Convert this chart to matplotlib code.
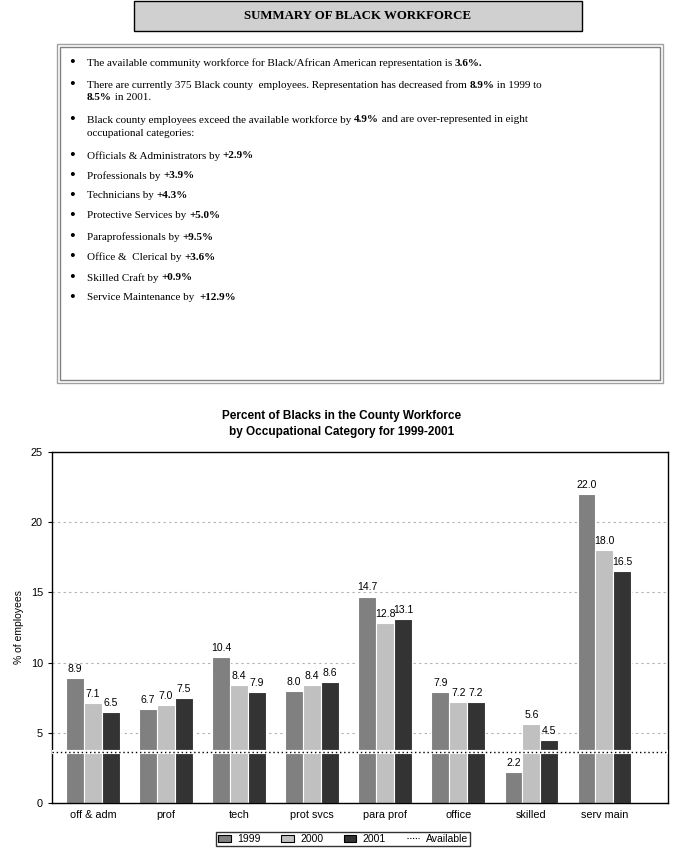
import numpy as np
import matplotlib.pyplot as plt
from matplotlib.patches import Rectangle, Patch
from matplotlib.lines import Line2D

W, H = 684, 859
SERIF = 'Liberation Serif'
SANS = 'Liberation Sans'

categories = ['off & adm', 'prof', 'tech', 'prot svcs', 'para prof',
              'office', 'skilled', 'serv main']
years = ['1999', '2000', '2001']
pct_1999 = [8.9, 6.7, 10.4, 8.0, 14.7, 7.9, 2.2, 22.0]
pct_2000 = [7.1, 7.0, 8.4, 8.4, 12.8, 7.2, 5.6, 18.0]
pct_2001 = [6.5, 7.5, 7.9, 8.6, 13.1, 7.2, 4.5, 16.5]
available = 3.6
yticks = [0, 5, 10, 15, 20, 25]

bullets = [
    [("The available community workforce for Black/African American representation is ", False), ("3.6%.", True)],
    [("There are currently 375 Black county  employees. Representation has decreased from ", False), ("8.9%", True), (" in 1999 to", False)],
    [("8.5%", True), (" in 2001.", False)],
    [("Black county employees exceed the available workforce by ", False), ("4.9%", True), (" and are over-represented in eight", False)],
    [("occupational categories:", False)],
    [("Officials & Administrators by ", False), ("+2.9%", True)],
    [("Professionals by ", False), ("+3.9%", True)],
    [("Technicians by ", False), ("+4.3%", True)],
    [("Protective Services by ", False), ("+5.0%", True)],
    [("Paraprofessionals by ", False), ("+9.5%", True)],
    [("Office &  Clerical by ", False), ("+3.6%", True)],
    [("Skilled Craft by ", False), ("+0.9%", True)],
    [("Service Maintenance by  ", False), ("+12.9%", True)],
]
line_y = [63, 85, 98, 120, 133, 156, 176, 196, 216, 237, 257, 278, 298]
has_bullet = [True, True, False, True, False, True, True, True, True, True, True, True, True]

COLORS = ['#808080', '#c0c0c0', '#333333']


def fx(px):
    return px / W


def fy(py):
    return 1 - py / H


fig = plt.figure(figsize=(W / 100, H / 100), dpi=100)
fig.set_facecolor('white')
renderer = fig.canvas.get_renderer()

# title box
fig.patches.append(Rectangle((fx(134), fy(31)), fx(582) - fx(134), fy(1) - fy(31),
                             transform=fig.transFigure, facecolor='#d0d0d0',
                             edgecolor='black', lw=1))
fig.text(fx(358), fy(16), 'SUMMARY OF BLACK WORKFORCE', family=SERIF,
         weight='bold', fontsize=9.3, ha='center', va='center')

# double-bordered text box
for x0, y0, x1, y1, c in [(57, 44, 663, 383, '#a0a0a0'), (60, 47, 660, 380, '#808080')]:
    fig.patches.append(Rectangle((fx(x0), fy(y1)), fx(x1) - fx(x0), fy(y0) - fy(y1),
                                 transform=fig.transFigure, facecolor='none',
                                 edgecolor=c, lw=1))

for pieces, yy, b in zip(bullets, line_y, has_bullet):
    if b:
        fig.text(fx(69), fy(yy), '\u2022', family=SERIF, fontsize=12,
                 ha='left', va='center')
    x = fx(87)
    for txt, bold in pieces:
        t = fig.text(x, fy(yy), txt, family=SERIF, fontsize=8,
                     weight='bold' if bold else 'normal', ha='left', va='center')
        bb = t.get_window_extent(renderer=renderer)
        x += bb.width / W

# chart
ax = fig.add_axes([fx(52), fy(803), fx(668) - fx(52), fy(452) - fy(803)])
x = np.arange(len(categories))
bw = 0.245
series = [pct_1999, pct_2000, pct_2001]
for i, (vals, yr) in enumerate(zip(series, years)):
    bars = ax.bar(x + (i - 1) * bw, vals, bw, color=COLORS[i],
                  edgecolor='white', lw=0.8, zorder=2, label=yr)
    ax.bar_label(bars, fmt='%.1f', padding=3, fontsize=7.5, family=SANS)

ax.axhline(available, color='white', lw=3, zorder=3)
ax.axhline(available, color='black', ls=(0, (1, 2)), lw=1, zorder=4)

ax.set_xlim(-0.56, 7.87)
ax.set_ylim(0, 25)
ax.set_yticks(yticks)
ax.set_xticks(x)
ax.set_xticklabels(categories, family=SANS, fontsize=7.8)
for lab in ax.get_yticklabels():
    lab.set_family(SANS)
    lab.set_fontsize(7.8)
ax.tick_params(axis='x', length=0, pad=5)
ax.tick_params(axis='y', length=3, width=0.8)
for s in ax.spines.values():
    s.set_linewidth(1)
ax.grid(axis='y', color='#b0b0b0', ls=(0, (2, 3)), lw=0.8, zorder=0)
ax.set_ylabel('% of employees', family=SANS, fontsize=7.5, labelpad=5)

fig.text(fx(342), fy(416), 'Percent of Blacks in the County Workforce',
         family=SANS, weight='bold', fontsize=8.5, ha='center', va='center')
fig.text(fx(342), fy(432), 'by Occupational Category for 1999-2001',
         family=SANS, weight='bold', fontsize=8.5, ha='center', va='center')

handles = [Patch(facecolor=c, edgecolor='black', lw=0.8) for c in COLORS]
handles.append(Line2D([], [], color='black', ls=(0, (1, 1.5)), lw=0.8))
leg = fig.legend(handles, years + ['Available'], loc='center',
                 bbox_to_anchor=(fx(343), fy(839)), ncol=4, frameon=True,
                 fancybox=False, edgecolor='black',
                 prop={'family': SANS, 'size': 7.5}, handlelength=1.2,
                 handleheight=0.7, columnspacing=2.0, borderpad=0.2,
                 handletextpad=0.6)
leg.get_frame().set_linewidth(1)

fig.savefig('out.png', dpi=100)
